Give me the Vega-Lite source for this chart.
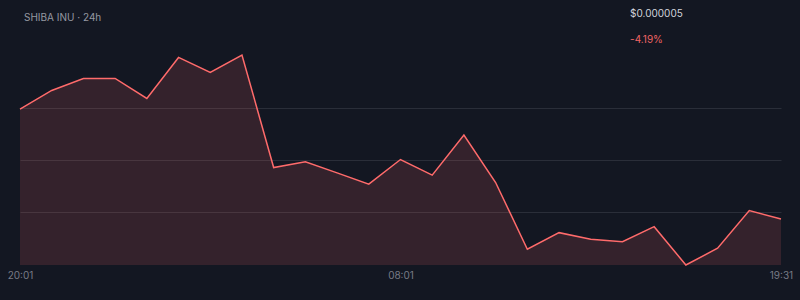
{
  "$schema": "https://vega.github.io/schema/vega-lite/v6.json",
  "width": 761,
  "height": 210,
  "autosize": {"type": "none"},
  "padding": {"left": 20, "top": 55, "right": 19, "bottom": 35},
  "background": "#131722",
  "config": {"view": {"stroke": null}, "font": "Inter"},
  "data": {
    "values": [
      {"i": 0, "time": "20:01", "price": 5.2000},
      {"i": 1, "time": "21:01", "price": 5.2370},
      {"i": 2, "time": "22:01", "price": 5.2608},
      {"i": 3, "time": "23:01", "price": 5.2608},
      {"i": 4, "time": "00:01", "price": 5.2211},
      {"i": 5, "time": "01:01", "price": 5.3025},
      {"i": 6, "time": "02:01", "price": 5.2727},
      {"i": 7, "time": "03:01", "price": 5.3073},
      {"i": 8, "time": "04:01", "price": 5.0840},
      {"i": 9, "time": "05:01", "price": 5.0953},
      {"i": 10, "time": "06:01", "price": 5.0734},
      {"i": 11, "time": "07:01", "price": 5.0510},
      {"i": 12, "time": "08:01", "price": 5.0999},
      {"i": 13, "time": "09:01", "price": 5.0689},
      {"i": 14, "time": "10:01", "price": 5.1483},
      {"i": 15, "time": "11:01", "price": 5.0542},
      {"i": 16, "time": "12:01", "price": 4.9218},
      {"i": 17, "time": "13:01", "price": 4.9548},
      {"i": 18, "time": "14:01", "price": 4.9417},
      {"i": 19, "time": "15:01", "price": 4.9369},
      {"i": 20, "time": "16:01", "price": 4.9667},
      {"i": 21, "time": "17:01", "price": 4.8906},
      {"i": 22, "time": "18:01", "price": 4.9238},
      {"i": 23, "time": "19:01", "price": 4.9985},
      {"i": 24, "time": "19:31", "price": 4.9820}
    ]
  },
  "layer": [
    {
      "mark": {"type": "area", "color": "#ff6b6b", "opacity": 0.14, "interpolate": "linear", "clip": true},
      "encoding": {
        "x": {
          "field": "i",
          "type": "quantitative",
          "scale": {"domain": [0, 24], "nice": false},
          "axis": {
            "values": [0, 12, 24],
            "labelExpr": "datum.value == 0 ? '20:01' : datum.value == 12 ? '08:01' : '19:31'",
            "labelFlush": false,
            "grid": false,
            "ticks": false,
            "domain": false,
            "labelColor": "#787b86",
            "labelFontSize": 10,
            "labelFont": "Inter",
            "labelPadding": 5,
            "title": null
          }
        },
        "y": {
          "field": "price",
          "type": "quantitative",
          "scale": {"domain": [4.8906, 5.3073], "nice": false, "zero": false},
          "axis": {
            "values": [4.9948, 5.0990, 5.2031],
            "labels": false,
            "ticks": false,
            "domain": false,
            "grid": true,
            "gridColor": "#2a2e39",
            "gridWidth": 1,
            "title": null
          }
        }
      }
    },
    {
      "mark": {"type": "line", "color": "#ff6b6b", "strokeWidth": 1.5, "interpolate": "linear"},
      "encoding": {
        "x": {"field": "i", "type": "quantitative", "scale": {"domain": [0, 24], "nice": false}},
        "y": {"field": "price", "type": "quantitative", "scale": {"domain": [4.8906, 5.3073], "nice": false, "zero": false}}
      }
    },
    {
      "data": {"values": [{"label": "SHIBA INU · 24h"}]},
      "mark": {"type": "text", "align": "left", "baseline": "middle", "clip": false, "color": "#9598a1", "fontSize": 10, "font": "Inter"},
      "encoding": {
        "x": {"datum": 0.126, "type": "quantitative", "scale": {"domain": [0, 24], "nice": false}},
        "y": {"datum": 5.3813, "type": "quantitative", "scale": {"domain": [4.8906, 5.3073], "nice": false, "zero": false}},
        "text": {"field": "label"}
      }
    },
    {
      "data": {"values": [{"label": "$0.000005"}]},
      "mark": {"type": "text", "align": "left", "baseline": "middle", "clip": false, "color": "#d1d4dc", "fontSize": 10, "font": "Inter"},
      "encoding": {
        "x": {"datum": 19.24, "type": "quantitative", "scale": {"domain": [0, 24], "nice": false}},
        "y": {"datum": 5.3887, "type": "quantitative", "scale": {"domain": [4.8906, 5.3073], "nice": false, "zero": false}},
        "text": {"field": "label"}
      }
    },
    {
      "data": {"values": [{"label": "-4.19%"}]},
      "mark": {"type": "text", "align": "left", "baseline": "middle", "clip": false, "color": "#ef6464", "fontSize": 10, "font": "Inter"},
      "encoding": {
        "x": {"datum": 19.24, "type": "quantitative", "scale": {"domain": [0, 24], "nice": false}},
        "y": {"datum": 5.3371, "type": "quantitative", "scale": {"domain": [4.8906, 5.3073], "nice": false, "zero": false}},
        "text": {"field": "label"}
      }
    }
  ]
}
